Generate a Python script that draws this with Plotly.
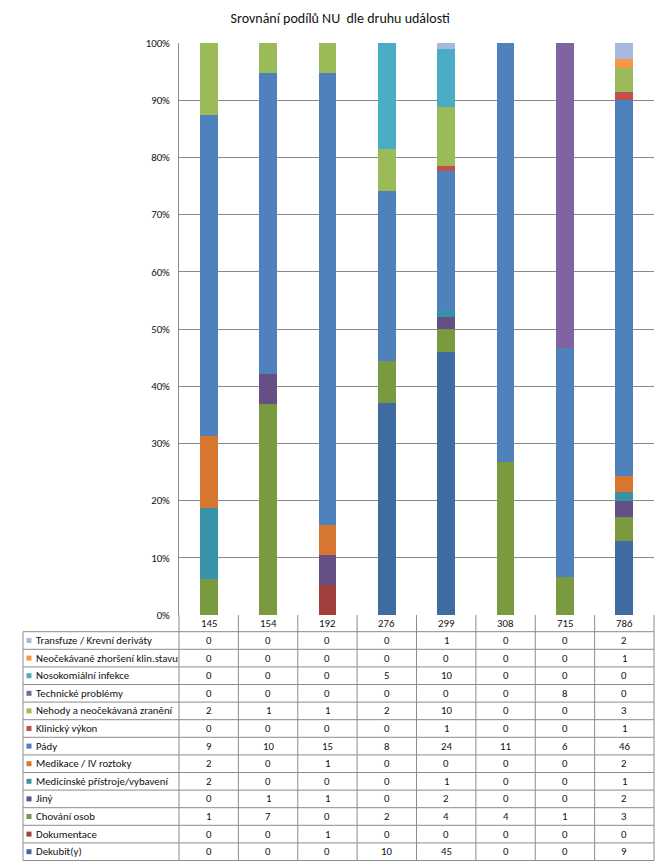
import plotly.graph_objects as go

categories = ["145", "154", "192", "276", "299", "308", "715", "786"]

# series, listed from bottom of the stack to the top
dekubit = [0, 0, 0, 10, 45, 0, 0, 9]
dokumentace = [0, 0, 1, 0, 0, 0, 0, 0]
chovani_osob = [1, 7, 0, 2, 4, 4, 1, 3]
jiny = [0, 1, 1, 0, 2, 0, 0, 2]
medicinske_pristroje = [2, 0, 0, 0, 1, 0, 0, 1]
medikace = [2, 0, 1, 0, 0, 0, 0, 2]
pady = [9, 10, 15, 8, 24, 11, 6, 46]
klinicky_vykon = [0, 0, 0, 0, 1, 0, 0, 1]
nehody = [2, 1, 1, 2, 10, 0, 0, 3]
technicke_problemy = [0, 0, 0, 0, 0, 0, 8, 0]
nosokomialni = [0, 0, 0, 5, 10, 0, 0, 0]
neocekavane = [0, 0, 0, 0, 0, 0, 0, 1]
transfuze = [0, 0, 0, 0, 1, 0, 0, 2]

series_names = [
    "Dekubit(y)", "Dokumentace", "Chování osob", "Jiný",
    "Medicínské přístroje/vybavení", "Medikace / IV roztoky", "Pády",
    "Klinický výkon", "Nehody a neočekávaná zranění", "Technické problémy",
    "Nosokomiální infekce", "Neočekávané zhoršení klin.stavu",
    "Transfuze / Krevní deriváty",
]
series_values = [
    dekubit, dokumentace, chovani_osob, jiny, medicinske_pristroje, medikace,
    pady, klinicky_vykon, nehody, technicke_problemy, nosokomialni,
    neocekavane, transfuze,
]
series_colors = [
    "#3E6BA0", "#A13F3C", "#7A9A3F", "#654F84", "#3892AA", "#D7772F",
    "#4F81BD", "#C0504D", "#9BBB59", "#8064A2", "#4BACC6", "#F79646",
    "#A7B9DE",
]

W, H = 667, 866
L, R, T, B = 179, 13, 43, 251
PW, PH = W - L - R, H - T - B
FONT = "Carlito, Calibri, Lato, 'Liberation Sans', sans-serif"


def px(x):
    return (x - L) / PW


def py(y):
    return (H - B - y) / PH


fig = go.Figure()
for name, vals, col in zip(series_names, series_values, series_colors):
    fig.add_trace(go.Bar(x=categories, y=vals, name=name, marker_color=col,
                         marker_line_width=0, showlegend=False))

fig.update_layout(
    width=W, height=H,
    margin=dict(l=L, r=R, t=T, b=B, pad=0),
    barmode="stack", barnorm="percent", bargap=0.70,
    plot_bgcolor="white", paper_bgcolor="white",
    font=dict(family=FONT, size=10.8, color="#111"),
    title=dict(text="Srovnání podílů NU  dle druhu události", x=0.51, xanchor="center",
               y=1 - 18 / H, yanchor="middle", font=dict(size=14, color="#111")),
    xaxis=dict(showticklabels=False, showgrid=False, showline=False, zeroline=False,
               range=[-0.5, len(categories) - 0.5]),
    yaxis=dict(range=[0, 100], dtick=10, ticksuffix="%", showgrid=True,
               gridcolor="#8A8A8A", gridwidth=1, zeroline=False,
               showline=True, linecolor="#8A8A8A", linewidth=1,
               ticks="", ticklabelstandoff=6, tickfont=dict(size=10.8)),
)

shapes = []
line = dict(color="#8C8C8C", width=1)
row_h = 17.6
header_top = H - B
rows_top = header_top + 16.7
n_rows = len(series_names)
n_cols = len(categories)
col_w = PW / n_cols
table_left = 23
table_bottom = rows_top + n_rows * row_h

# horizontal lines
for k in range(n_rows + 1):
    yy = rows_top + k * row_h
    shapes.append(dict(type="line", xref="paper", yref="paper", x0=px(table_left), x1=1,
                       y0=py(yy), y1=py(yy), line=line))
# vertical lines
for k in range(n_cols + 1):
    xx = L + k * col_w
    shapes.append(dict(type="line", xref="paper", yref="paper", x0=px(xx), x1=px(xx),
                       y0=py(header_top), y1=py(table_bottom), line=line))
shapes.append(dict(type="line", xref="paper", yref="paper", x0=px(table_left), x1=px(table_left),
                   y0=py(rows_top), y1=py(table_bottom), line=line))

annotations = []
for j, c in enumerate(categories):
    annotations.append(dict(x=px(L + (j + 0.5) * col_w), xref="paper", yref="paper",
                            y=py((header_top + rows_top) / 2),
                            text=c, showarrow=False, xanchor="center", yanchor="middle"))

# table rows: top row is last series
for r, idx in enumerate(range(n_rows - 1, -1, -1)):
    yc = rows_top + r * row_h + row_h / 2
    shapes.append(dict(type="rect", xref="paper", yref="paper",
                       x0=px(26.5), x1=px(31.5), y0=py(yc - 2.5), y1=py(yc + 2.5),
                       fillcolor=series_colors[idx], line=dict(width=0)))
    annotations.append(dict(x=px(34), xref="paper", yref="paper", y=py(yc), text=series_names[idx],
                            showarrow=False, xanchor="left", yanchor="middle"))
    for j in range(n_cols):
        annotations.append(dict(x=px(L + (j + 0.5) * col_w), xref="paper", yref="paper", y=py(yc),
                                text=str(series_values[idx][j]), showarrow=False,
                                xanchor="center", yanchor="middle"))

fig.update_layout(shapes=shapes, annotations=annotations)
fig.write_html("out.html", config={"displayModeBar": False},
               post_script="document.body.style.margin='0';")
